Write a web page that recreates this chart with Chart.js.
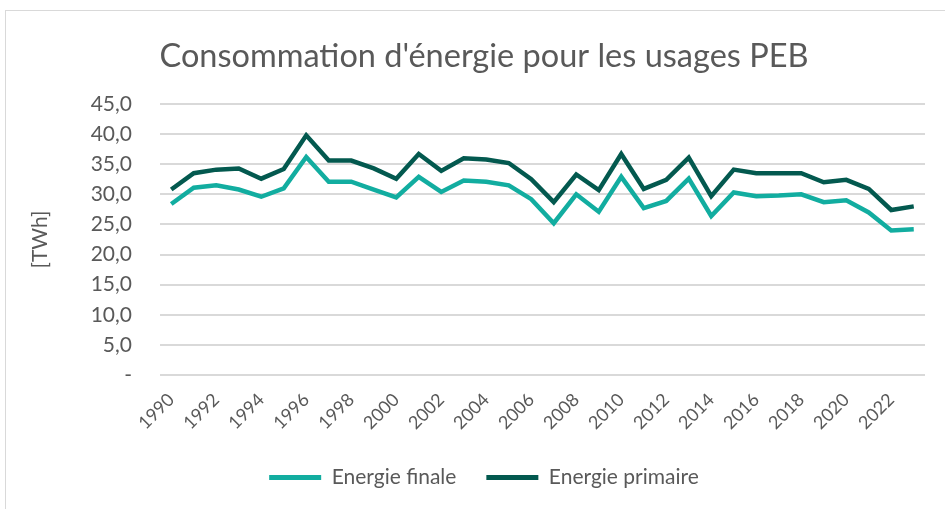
<!DOCTYPE html>
<html>
<head>
<meta charset="utf-8">
<script src="https://cdn.jsdelivr.net/npm/chart.js@4/dist/chart.umd.min.js"></script>
<style>
    html, body { margin: 0; padding: 0; background: #fff; }
    #wrap { position: relative; width: 945px; height: 509px; }
    #frame { position: absolute; left: 5px; top: 10px; width: 945px; height: 505px; border: 1px solid #d9d9d9; box-sizing: border-box; }
    canvas { position: absolute; left: 0; top: 0; }
</style>
</head>
<body>
<div id="wrap">
    <div id="frame"></div>
    <canvas id="chart" width="945" height="509"></canvas>
</div>
<script>
const years = [];
for (let y = 1990; y <= 2023; y++) years.push(String(y));

const finale = [28.4, 31.1, 31.5, 30.8, 29.6, 31.0, 36.2, 32.1, 32.1, 30.8,
    29.5, 32.9, 30.4, 32.3, 32.1, 31.5, 29.2, 25.2, 30.0, 27.1,
    32.9, 27.7, 28.9, 32.6, 26.4, 30.3, 29.7, 29.8, 30.0, 28.7,
    29.0, 27.0, 24.0, 24.2];

const primaire = [30.8, 33.5, 34.1, 34.3, 32.6, 34.2, 39.8, 35.6, 35.6, 34.3,
    32.6, 36.7, 33.9, 36.0, 35.8, 35.2, 32.5, 28.7, 33.3, 30.7,
    36.7, 30.9, 32.4, 36.1, 29.7, 34.1, 33.5, 33.5, 33.5, 32.0,
    32.4, 30.9, 27.4, 28.0];

const gray = '#595959';
const font = 'Lato, "Open Sans", sans-serif';

const ctx = document.getElementById('chart').getContext('2d');

new Chart(ctx, {
    type: 'line',
    data: {
        labels: years,
        datasets: [
            {
                label: 'Energie finale',
                data: finale,
                borderColor: '#12ada0',
                backgroundColor: '#12ada0',
                borderWidth: 4.5,
                pointRadius: 0,
                tension: 0
            },
            {
                label: 'Energie primaire',
                data: primaire,
                borderColor: '#03594f',
                backgroundColor: '#03594f',
                borderWidth: 4.5,
                pointRadius: 0,
                tension: 0
            }
        ]
    },
    options: {
        responsive: false,
        animation: false,
        layout: { padding: { left: 23, right: 0, top: 0, bottom: 11 } },
        plugins: {
            title: {
                display: true,
                text: "Consommation d'énergie pour les usages PEB",
                color: gray,
                font: { family: font, size: 32.5, weight: 'normal' },
                padding: { top: 37, bottom: 28 }
            },
            legend: {
                position: 'bottom',
                labels: {
                    color: gray,
                    font: { family: font, size: 21 },
                    boxWidth: 52,
                    boxHeight: 5,
                    padding: 30,
                    generateLabels: function (chart) {
                        const items = Chart.defaults.plugins.legend.labels.generateLabels(chart);
                        items.forEach(item => { item.lineWidth = 0; });
                        return items;
                    }
                }
            },
            tooltip: { enabled: false }
        },
        scales: {
            x: {
                offset: true,
                grid: { display: false },
                border: { display: false },
                ticks: {
                    color: gray,
                    font: { family: font, size: 18 },
                    autoSkip: false,
                    maxRotation: 45,
                    minRotation: 45,
                    padding: 6,
                    callback: function (value, index) {
                        return index % 2 === 0 ? this.getLabelForValue(value) : '';
                    }
                },
                afterFit: function (scale) { scale.height = 62; }
            },
            y: {
                min: 0,
                max: 45,
                grid: { color: '#d9d9d9', lineWidth: 2, drawTicks: false },
                border: { display: false },
                ticks: {
                    stepSize: 5,
                    color: gray,
                    font: { family: font, size: 21 },
                    padding: 28,
                    callback: value => value === 0 ? '-' : value.toFixed(1).replace('.', ',')
                },
                title: {
                    display: true,
                    text: '[TWh]',
                    color: gray,
                    font: { family: font, size: 21 },
                    padding: { top: 5, bottom: 0 }
                },
                afterFit: function (scale) { scale.width = 137; }
            },
            // empty right-hand margin so the plot ends where the reference does
            yRight: {
                position: 'right',
                grid: { display: false },
                border: { display: false },
                ticks: { display: false },
                afterFit: function (scale) { scale.width = 20; }
            }
        }
    }
});
</script>
</body>
</html>
